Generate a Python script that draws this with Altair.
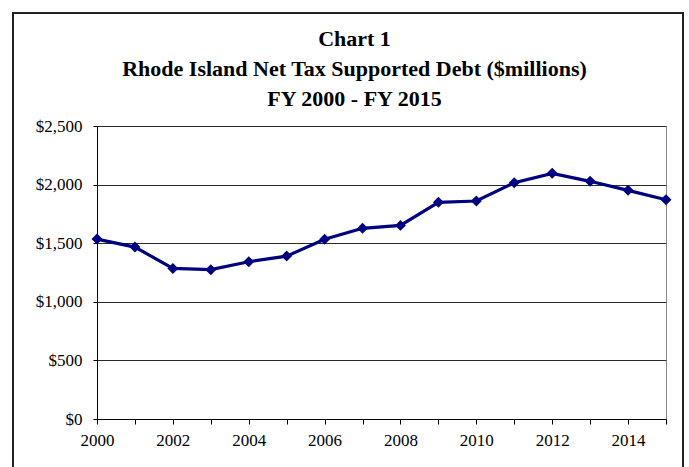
import altair as alt
import pandas as pd

# Fiscal years and net tax supported debt ($ millions)
years = [2000, 2001, 2002, 2003, 2004, 2005, 2006, 2007,
         2008, 2009, 2010, 2011, 2012, 2013, 2014, 2015]
debt = [1535, 1467, 1285, 1274, 1342, 1390, 1533, 1627,
        1652, 1849, 1860, 2016, 2096, 2028, 1951, 1871]
y_ticks = [0, 500, 1000, 1500, 2000, 2500]
title_lines = ["Chart 1",
               "Rhode Island Net Tax Supported Debt ($millions)",
               "FY 2000 - FY 2015"]

df = pd.DataFrame({"year": years, "debt": debt})

SERIF = "Liberation Serif"
NAVY = "#000080"

x_enc = alt.X(
    "year:Q",
    scale=alt.Scale(domain=[2000, 2015], nice=False, zero=False),
    axis=alt.Axis(
        values=years,
        labelExpr="datum.value % 2 == 0 ? datum.label : ''",
        format="d",
        title=None,
        grid=False,
        tickSize=5,
        labelPadding=8,
        labelFlush=False,
    ),
)
y_enc = alt.Y(
    "debt:Q",
    scale=alt.Scale(domain=[0, 2500], nice=False),
    axis=alt.Axis(
        values=y_ticks,
        format="$,.0f",
        title=None,
        grid=True,
        tickSize=4,
        labelPadding=11,
        labelFlush=False,
    ),
)

base = alt.Chart(df)

# Outer border around the whole figure (its top edge sets where the title sits)
frame = base.mark_rect(
    fill=None, stroke="#222222", strokeWidth=2, clip=False
).encode(
    x=alt.value(-84), x2=alt.value(586),
    y=alt.value(-113), y2=alt.value(360),
)

line = base.mark_line(color=NAVY, strokeWidth=3.2).encode(x=x_enc, y=y_enc)
points = base.mark_point(
    shape="diamond", filled=True, color=NAVY, size=120, opacity=1
).encode(x=x_enc, y=y_enc)

chart = (
    alt.layer(line, points, frame)
    .properties(
        width=569,
        height=293,
        autosize=alt.AutoSizeParams(type="none"),
        padding={"left": 97, "top": 126, "right": 23, "bottom": 48},
        title=alt.TitleParams(
            text=title_lines,
            font=SERIF,
            fontSize=22,
            fontWeight="bold",
            lineHeight=30,
            color="#000000",
            anchor="middle",
            offset=-99,
            dx=-27,
        ),
    )
    .configure_view(stroke="#8a8a8a", strokeWidth=1)
    .configure_axis(
        labelFont=SERIF,
        labelFontSize=17,
        labelColor="#000000",
        domainColor="#000000",
        tickColor="#000000",
        gridColor="#2a2a2a",
        gridWidth=1,
    )
)

chart.save("out.html", embed_options={"renderer": "svg", "actions": False})
